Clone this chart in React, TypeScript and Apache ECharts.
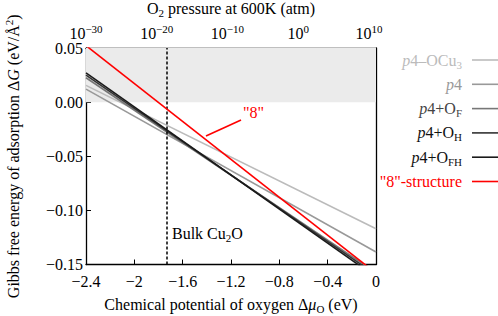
import React, { useEffect, useRef } from "react";
import * as echarts from "echarts";

const muRange = [-2.4, 0];
const seriesNames = ["p4–OCu3", "p4", "p4+OF", "p4+OH", "p4+OFH", '"8"-structure'];
const seriesLabels = [
  "{i|p}4–OCu{sub|3}",
  "{i|p}4",
  "{i|p}4+O{sub|F}",
  "{i|p}4+O{sub|H}",
  "{i|p}4+O{sub|FH}",
  '"8"-structure',
];
// Gibbs free energy at Δμ = -2.4 and Δμ = 0
const valOCu3 = [0.0155, -0.117];
const valP4 = [0.012, -0.1385];
const valOF = [0.0225, -0.1575];
const valOH = [0.025, -0.1595];
const valOFH = [0.027, -0.1617];
const val8 = [0.0522, -0.158];
const seriesValues = [valOCu3, valP4, valOF, valOH, valOFH, val8];
const lineColors = ["#bbbbbb", "#999999", "#777777", "#333333", "#1a1a1a", "#ff0000"];
const textColors = ["#bbbbbb", "#999999", "#444444", "#111111", "#111111", "#ff0000"];
const bulkCu2O = -1.732;
const arrowFrom = [-1.117, -0.0165];
const arrowTo = [-1.407, -0.0313];
const pressureTicks = [-30, 11];

const F = "Times New Roman";
const rich = {
  i: { fontStyle: "italic", fontSize: 16, fontFamily: F },
  sub: { fontSize: 11, verticalAlign: "bottom", fontFamily: F },
  sup: { fontSize: 11, verticalAlign: "top", fontFamily: F },
};

const minus = (s: string) => s.replace("-", "−");

export default function App() {
  const ref = useRef<HTMLDivElement>(null);
  useEffect(() => {
    if (!ref.current) return;
    const chart = echarts.init(ref.current, undefined, { renderer: "svg" });
    const series: any[] = seriesNames.map((name, k) => ({
      name,
      type: "line",
      xAxisIndex: 0,
      yAxisIndex: 0,
      symbol: "none",
      clip: true,
      z: k === 5 ? 5 : 3,
      lineStyle: { color: lineColors[k], width: 1.6 },
      itemStyle: { color: lineColors[k] },
      data: [
        [muRange[0], seriesValues[k][0]],
        [muRange[1], seriesValues[k][1]],
      ],
    }));
    series[0].markArea = {
      silent: true,
      itemStyle: { color: "#ebebeb" },
      data: [[{ yAxis: 0 }, { yAxis: 0.05 }]],
    };
    series[1].markLine = {
      silent: true,
      symbol: "none",
      label: { show: false },
      lineStyle: { color: "#000", type: [3, 2], width: 1.5 },
      data: [{ xAxis: bulkCu2O }],
    };
    series[5].markLine = {
      silent: true,
      symbol: ["none", "arrow"],
      symbolSize: [0, 11],
      label: { show: false },
      lineStyle: { color: "#ff0000", type: "solid", width: 1.6 },
      data: [[{ coord: arrowFrom }, { coord: arrowTo }]],
    };
    const axisLine = { show: true, onZero: false, lineStyle: { color: "#000", width: 1.3 } };
    const tick = { show: true, inside: true, length: 5, lineStyle: { color: "#000", width: 1 } };
    const legendRowY = [60, 84.3, 108.6, 132.9, 157.2, 181.5];
    const legendGraphics: any[] = [];
    seriesNames.forEach((n, k) => {
      legendGraphics.push({
        type: "text",
        x: 462,
        y: legendRowY[k],
        style: {
          text: seriesLabels[k],
          fill: textColors[k],
          fontSize: 16,
          lineHeight: 20,
          fontFamily: F,
          align: "right",
          verticalAlign: "middle",
          rich,
        },
      });
      legendGraphics.push({
        type: "line",
        shape: { x1: 472, y1: legendRowY[k], x2: 498, y2: legendRowY[k] },
        style: { stroke: lineColors[k], lineWidth: 1.6 },
      });
    });
    const option: any = {
      animation: false,
      textStyle: { fontFamily: F },
      grid: { left: 86, right: 122, top: 48, bottom: 51.5, outerBoundsMode: "none" },
      xAxis: [
        {
          type: "value",
          position: "bottom",
          min: muRange[0],
          max: muRange[1],
          interval: 0.4,
          axisLine,
          axisTick: tick,
          splitLine: { show: false },
          axisLabel: {
            margin: 9,
            fontSize: 16,
            color: "#000",
            fontFamily: F,
            formatter: (v: number) =>
              Math.abs(v) < 1e-9 ? "0" : minus(String(Math.round(v * 10) / 10)),
          },
          name: "Chemical potential of oxygen Δ{i|μ}{sub|O} (eV)",
          nameLocation: "middle",
          nameGap: 28,
          nameTextStyle: { fontSize: 16, color: "#000", lineHeight: 20, fontFamily: F, rich },
        },
        {
          type: "value",
          position: "top",
          min: pressureTicks[0],
          max: pressureTicks[1],
          interval: 10,
          axisLine,
          axisTick: tick,
          splitLine: { show: false },
          axisLabel: {
            margin: 5,
            fontSize: 16,
            lineHeight: 20,
            color: "#000",
            fontFamily: F,
            rich,
            showMaxLabel: false,
            formatter: (v: number) =>
              Math.abs(v - Math.round(v / 10) * 10) > 1e-6
                ? ""
                : `10{sup|${minus(String(Math.round(v)))}}`,
          },
          name: "O{sub|2} pressure at 600K (atm)",
          nameLocation: "middle",
          nameGap: 28,
          nameTextStyle: { fontSize: 16, color: "#000", lineHeight: 20, fontFamily: F, rich },
        },
      ],
      yAxis: [
        {
          type: "value",
          position: "left",
          min: -0.15,
          max: 0.05,
          interval: 0.05,
          axisLine,
          axisTick: tick,
          splitLine: { show: false },
          axisLabel: {
            margin: 3,
            fontSize: 16,
            color: "#000",
            fontFamily: F,
            formatter: (v: number) => minus((Math.abs(v) < 1e-9 ? 0 : v).toFixed(2)),
          },
          name: "Gibbs free energy of adsorption Δ{i|G} (eV/Å{sup|2})",
          nameLocation: "middle",
          nameGap: 63,
          nameTextStyle: { fontSize: 16, color: "#000", lineHeight: 20, fontFamily: F, rich },
        },
        {
          type: "value",
          position: "right",
          min: -0.15,
          max: 0.05,
          axisLine,
          axisTick: { show: false },
          axisLabel: { show: false },
          splitLine: { show: false },
        },
      ],
      graphic: [
        ...legendGraphics,
        {
          type: "text",
          x: 172,
          y: 233,
          style: {
            text: "Bulk Cu{sub|2}O",
            fill: "#000",
            fontSize: 16,
            lineHeight: 20,
            fontFamily: F,
            verticalAlign: "middle",
            rich,
          },
        },
        {
          type: "text",
          x: 243,
          y: 112,
          style: {
            text: '"8"',
            fill: "#ff0000",
            fontSize: 16,
            fontFamily: F,
            verticalAlign: "middle",
          },
        },
      ],
      series,
    };
    chart.setOption(option);
    return () => chart.dispose();
  }, []);
  return <div ref={ref} style={{ width: 498, height: 316, position: "absolute", left: 0, top: 0 }} />;
}
